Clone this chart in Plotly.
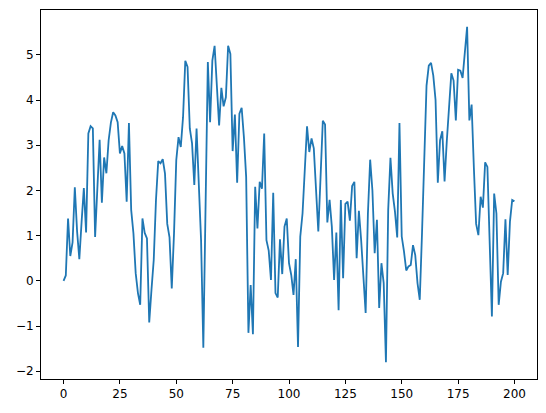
import plotly.graph_objects as go

x_values = list(range(201))
y_values = [
    0.0, 0.12, 1.38, 0.55, 0.85, 2.07, 1.1, 0.48, 1.3, 2.05,
    1.07, 3.26, 3.42, 3.37, 0.97, 2.0, 3.12, 1.73, 2.73, 2.38,
    3.11, 3.5, 3.73, 3.66, 3.51, 2.82, 2.98, 2.82, 1.75, 3.49,
    1.57, 1.05, 0.17, -0.27, -0.53, 1.38, 1.06, 0.94, -0.92, -0.2,
    0.46, 1.79, 2.65, 2.6, 2.69, 2.37, 1.26, 0.96, -0.17, 1.05,
    2.67, 3.18, 2.96, 3.62, 4.87, 4.73, 3.37, 3.04, 2.12, 3.37,
    2.1, 0.9, -1.48, 1.6, 4.84, 3.51, 4.87, 5.2, 4.29, 3.44,
    4.27, 3.86, 4.06, 5.2, 5.02, 2.87, 3.68, 2.17, 3.70, 3.83,
    3.18, 2.3, -1.15, -0.09, -1.18, 2.08, 1.16, 2.19, 2.04, 3.26,
    0.9, 0.67, 0.02, 1.95, -0.27, -0.37, 0.92, 0.15, 1.2, 1.38,
    0.39, 0.13, -0.31, 0.48, -1.46, 0.98, 1.49, 2.45, 3.42, 2.85,
    3.15, 2.93, 1.94, 1.09, 2.3, 3.54, 3.46, 1.29, 1.79, 1.2,
    0.02, 1.07, -0.65, 1.79, 0.06, 1.70, 1.75, 1.33, 2.10, 2.19,
    0.5, 1.55, 0.9, 0.2, -0.71, 1.49, 2.68, 2.0, 0.61, 1.35,
    -0.6, 0.39, -0.05, -1.8, 1.57, 2.72, 1.93, 1.53, 0.96, 3.49,
    0.98, 0.65, 0.23, 0.32, 0.35, 0.79, 0.57, -0.05, -0.42, 1.06,
    2.6, 4.32, 4.76, 4.82, 4.54, 4.0, 2.17, 3.11, 3.31, 2.2,
    3.1, 3.77, 4.59, 4.43, 3.55, 4.67, 4.65, 4.49, 5.09, 5.62,
    3.55, 3.90, 2.5, 1.26, 1.01, 1.86, 1.62, 2.62, 2.52, 1.0,
    -0.79, 1.93, 1.49, -0.53, -0.02, 0.17, 1.36, 0.13, 1.31, 1.79,
    1.76,
]
x_ticks = [0, 25, 50, 75, 100, 125, 150, 175, 200]
y_ticks = [-2, -1, 0, 1, 2, 3, 4, 5]

xmin, xmax = min(x_values), max(x_values)
ymin, ymax = min(y_values), max(y_values)
xpad = (xmax - xmin) * 0.05
ypad = (ymax - ymin) * 0.05

fig = go.Figure()
fig.add_trace(go.Scatter(
    x=x_values, y=y_values, mode="lines",
    line=dict(color="#1f77b4", width=1.8),
    showlegend=False,
))

axis_common = dict(
    showgrid=False, zeroline=False,
    showline=True, linecolor="black", linewidth=1, mirror=True,
    ticks="outside", ticklen=4, tickwidth=1, tickcolor="black",
    tickfont=dict(family="DejaVu Sans", size=12, color="black"),
)
fig.update_xaxes(range=[xmin - xpad, xmax + xpad], tickvals=x_ticks,
                 ticktext=[str(t) for t in x_ticks], **axis_common)
fig.update_yaxes(range=[ymin - ypad, ymax + ypad], tickvals=y_ticks,
                 ticktext=[str(t) if t >= 0 else "\u2212" + str(-t) for t in y_ticks],
                 **axis_common)

fig.update_layout(
    width=538, height=405,
    margin=dict(l=33, r=9, t=2, b=34),
    paper_bgcolor="white", plot_bgcolor="white",
)

fig.write_html("out.html")
